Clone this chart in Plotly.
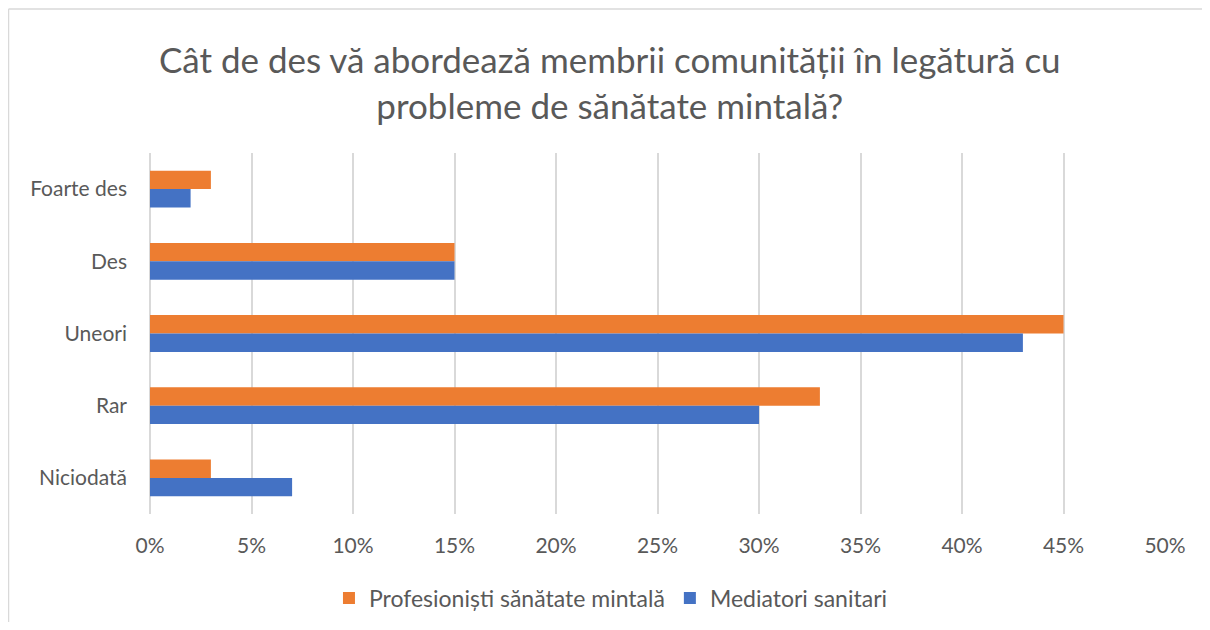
import plotly.graph_objects as go

# categories top to bottom
categories = ["Foarte des", "Des", "Uneori", "Rar", "Niciodată"]
profesionisti = [3, 15, 45, 33, 3]
mediatori = [2, 15, 43, 30, 7]
x_ticks = [0, 5, 10, 15, 20, 25, 30, 35, 40, 45, 50]
x_tick_labels = ["0%", "5%", "10%", "15%", "20%", "25%", "30%", "35%", "40%", "45%", "50%"]

TXT = "#595959"
FONT = "Lato"

fig = go.Figure()
fig.add_trace(go.Bar(
    y=categories, x=profesionisti, orientation="h",
    name="Profesioniști sănătate mintală",
    marker=dict(color="#ED7D31", line=dict(width=0)),
))
fig.add_trace(go.Bar(
    y=categories, x=mediatori, orientation="h",
    name="Mediatori sanitari",
    marker=dict(color="#4472C4", line=dict(width=0)),
))

# page body has an 8px margin, so keep the figure inside the window (no scrollbars)
W, H = 1194, 614
L, R, T, B = 142, 1157, 145, 506
def px(x): return (x - L) / (R - L)
def py(y): return (B - y) / (B - T)

frame = dict(color="#D9D9D9", width=1.5)

fig.update_layout(
    width=W, height=H,
    margin=dict(l=L, r=W - R, t=T, b=H - B),
    paper_bgcolor="white", plot_bgcolor="white",
    barmode="group", bargap=0.49, bargroupgap=0,
    font=dict(family=FONT, color=TXT, size=22),
    title=dict(
        text="Cât de des vă abordează membrii comunității în legătură cu<br>probleme de sănătate mintală?",
        x=0.504, xref="container", xanchor="center",
        y=0.894, yref="container", yanchor="middle",
        font=dict(family=FONT, size=35, color=TXT),
    ),
    xaxis=dict(
        range=[0, 50], tickvals=x_ticks, ticktext=x_tick_labels,
        showgrid=True, gridcolor="#D9D9D9", gridwidth=1.5,
        zeroline=True, zerolinecolor="#D9D9D9", zerolinewidth=1.5,
        showline=False, ticks="", ticklabelstandoff=17,
        tickfont=dict(size=21, color=TXT),
    ),
    yaxis=dict(
        autorange="reversed", showgrid=False, showline=False,
        ticks="", ticklabelstandoff=22,
        tickfont=dict(size=21, color=TXT),
    ),
    legend=dict(
        orientation="h", x=0.505, xref="container", xanchor="center",
        y=0.039, yref="container", yanchor="middle",
        font=dict(size=23, color=TXT), traceorder="normal",
        itemwidth=30,
    ),
    showlegend=True,
    # outer chart frame: only top and left edges are inside the window
    shapes=[
        dict(type="line", xref="paper", yref="paper",
             x0=px(0.5), x1=px(W), y0=py(1), y1=py(1), line=frame, layer="below"),
        dict(type="line", xref="paper", yref="paper",
             x0=px(0.5), x1=px(0.5), y0=py(1), y1=py(H), line=frame, layer="below"),
    ],
)

fig.write_html("out.html")
